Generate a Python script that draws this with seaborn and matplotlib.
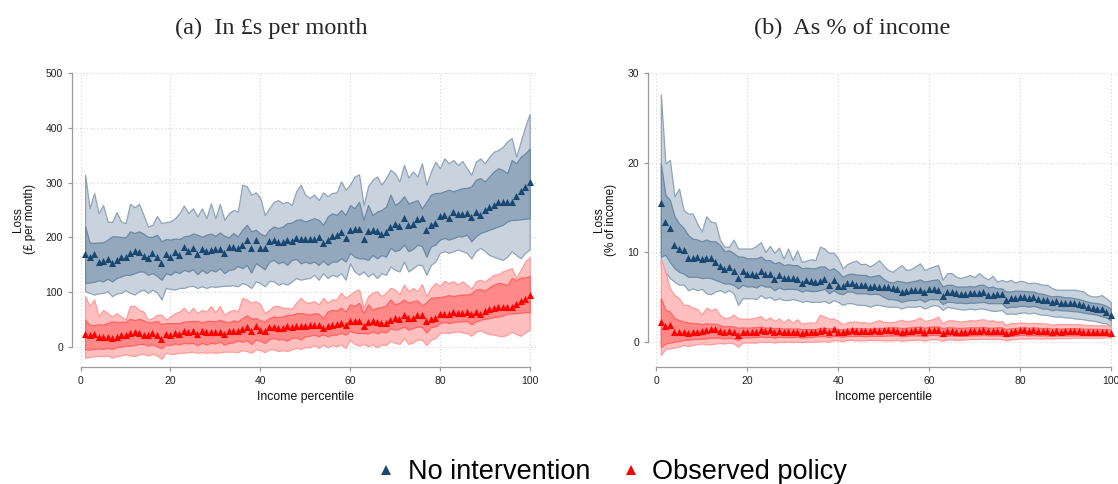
import matplotlib
matplotlib.use("Agg")
import matplotlib.pyplot as plt
from matplotlib.lines import Line2D
import numpy as np
import pandas as pd
import seaborn as sns

# ---------------------------------------------------------------- data
percentile = list(range(1, 101))

# Panel (a): loss in £ per month
gbp_none_mean = [170, 165, 170, 156, 158, 160, 153, 159, 165, 165,
                 172, 175, 173, 167, 163, 172, 165, 153, 170, 165,
                 173, 168, 182, 176, 181, 170, 179, 175, 178, 179,
                 179, 172, 182, 182, 181, 187, 195, 181, 196, 181,
                 180, 194, 195, 191, 191, 196, 194, 199, 197, 197,
                 197, 197, 201, 190, 196, 202, 205, 210, 199, 213,
                 216, 216, 198, 212, 213, 211, 207, 210, 219, 224,
                 221, 235, 222, 225, 233, 235, 213, 223, 226, 239,
                 241, 236, 247, 243, 243, 245, 238, 247, 241, 250,
                 256, 259, 264, 264, 265, 265, 275, 285, 291, 301]
gbp_none_hi95 = [314, 253, 281, 244, 259, 229, 228, 246, 229, 226,
                 261, 255, 261, 241, 220, 223, 239, 226, 228, 229,
                 235, 244, 258, 244, 253, 238, 253, 235, 262, 235,
                 261, 232, 244, 250, 247, 296, 293, 278, 282, 272,
                 241, 253, 265, 268, 262, 265, 259, 284, 296, 278,
                 272, 278, 268, 282, 275, 281, 282, 302, 287, 296,
                 311, 315, 259, 293, 305, 311, 296, 308, 323, 317,
                 302, 332, 309, 320, 311, 335, 296, 320, 338, 326,
                 344, 335, 341, 332, 339, 326, 314, 338, 344, 335,
                 347, 356, 359, 365, 375, 381, 347, 375, 402, 425]
gbp_none_hi68 = [220, 191, 190, 191, 191, 196, 202, 202, 201, 200,
                 211, 208, 211, 207, 201, 201, 205, 193, 197, 196,
                 198, 197, 202, 203, 207, 205, 201, 205, 207, 203,
                 209, 203, 200, 208, 202, 214, 223, 211, 214, 207,
                 203, 214, 220, 217, 220, 226, 227, 232, 233, 229,
                 232, 235, 232, 223, 238, 244, 241, 250, 241, 259,
                 253, 265, 232, 259, 241, 247, 250, 256, 278, 259,
                 265, 275, 262, 265, 268, 253, 265, 278, 281, 281,
                 284, 287, 284, 287, 290, 290, 293, 305, 308, 302,
                 311, 320, 326, 323, 317, 341, 335, 347, 353, 362]
gbp_none_lo68 = [117, 118, 119, 122, 120, 125, 120, 126, 129, 132,
                 132, 135, 138, 138, 132, 135, 130, 123, 135, 132,
                 138, 135, 141, 138, 142, 133, 141, 135, 141, 138,
                 144, 135, 141, 142, 148, 144, 150, 136, 153, 148,
                 142, 156, 159, 153, 156, 150, 159, 161, 153, 156,
                 153, 156, 150, 158, 150, 156, 156, 162, 156, 172,
                 165, 162, 162, 159, 168, 162, 168, 165, 181, 175,
                 178, 187, 175, 179, 187, 184, 165, 184, 187, 196,
                 199, 196, 199, 202, 202, 205, 193, 202, 208, 211,
                 214, 217, 220, 223, 229, 232, 232, 233, 234, 235]
gbp_none_lo95 = [102, 99, 96, 98, 99, 102, 93, 98, 99, 104,
                 99, 96, 102, 105, 99, 105, 100, 87, 108, 106,
                 105, 108, 108, 111, 112, 108, 111, 108, 111, 110,
                 111, 112, 112, 113, 111, 117, 114, 108, 120, 117,
                 111, 121, 120, 114, 117, 114, 120, 126, 123, 125,
                 126, 132, 123, 135, 126, 132, 129, 135, 123, 153,
                 138, 132, 138, 129, 135, 126, 135, 132, 147, 141,
                 138, 156, 138, 144, 150, 150, 132, 150, 156, 172,
                 175, 172, 175, 178, 175, 172, 162, 175, 181, 175,
                 168, 165, 162, 159, 165, 175, 168, 162, 172, 178]

gbp_obs_mean = [24, 22, 25, 19, 19, 19, 16, 19, 22, 22,
                26, 27, 26, 23, 22, 26, 23, 15, 25, 23,
                26, 24, 30, 28, 30, 25, 29, 27, 28, 28,
                28, 25, 30, 30, 30, 33, 37, 29, 38, 31,
                30, 36, 37, 35, 35, 38, 36, 39, 39, 39,
                40, 40, 41, 35, 38, 41, 43, 45, 41, 47,
                48, 48, 38, 46, 47, 46, 44, 45, 50, 53,
                52, 58, 53, 54, 58, 58, 47, 52, 54, 61,
                61, 60, 64, 63, 63, 64, 60, 64, 61, 66,
                70, 72, 74, 74, 74, 74, 79, 85, 88, 95]
gbp_obs_hi95 = [93, 75, 87, 56, 68, 62, 56, 62, 56, 50,
                75, 75, 68, 65, 50, 53, 59, 59, 50, 56,
                62, 65, 72, 62, 72, 62, 68, 65, 75, 64,
                75, 59, 65, 68, 65, 90, 87, 81, 84, 78,
                62, 68, 75, 75, 72, 72, 70, 81, 90, 82,
                81, 84, 78, 90, 81, 87, 87, 99, 90, 96,
                102, 105, 72, 93, 99, 102, 93, 99, 108, 105,
                96, 114, 102, 108, 102, 115, 93, 108, 117, 111,
                121, 117, 120, 114, 120, 114, 106, 120, 123, 119,
                126, 132, 133, 138, 141, 144, 126, 141, 156, 164]
gbp_obs_hi68 = [50, 41, 40, 42, 41, 44, 47, 46, 46, 46,
                52, 49, 52, 49, 45, 46, 48, 42, 44, 44,
                44, 44, 47, 47, 48, 48, 45, 48, 48, 47,
                50, 47, 45, 49, 47, 53, 58, 52, 53, 49,
                47, 53, 56, 55, 56, 59, 59, 62, 62, 61,
                59, 62, 61, 53, 65, 68, 67, 72, 65, 78,
                75, 81, 62, 78, 68, 72, 73, 76, 87, 78,
                81, 87, 81, 84, 85, 76, 82, 90, 91, 91,
                93, 95, 93, 95, 96, 96, 98, 105, 106, 103,
                109, 114, 117, 116, 113, 126, 122, 127, 127, 130]
gbp_obs_lo68 = [-4, -4, -3, -2, -3, -1, -3, 0, 1, 3,
                3, 4, 6, 6, 3, 5, 2, -2, 5, 4,
                7, 5, 8, 7, 8, 4, 8, 5, 8, 7,
                10, 5, 8, 9, 12, 10, 13, 6, 14, 12,
                8, 15, 17, 14, 15, 12, 17, 18, 14, 20,
                21, 23, 20, 24, 20, 23, 23, 26, 23, 30,
                27, 26, 26, 25, 29, 26, 29, 27, 35, 32,
                34, 38, 32, 35, 38, 37, 27, 37, 38, 44,
                46, 44, 46, 47, 47, 48, 42, 47, 50, 52,
                53, 55, 56, 58, 61, 62, 62, 63, 64, 64]
gbp_obs_lo95 = [-19, -18, -16, -16, -16, -15, -19, -16, -15, -13,
                -15, -16, -13, -12, -15, -12, -15, -21, -10, -12,
                -12, -10, -10, -9, -8, -10, -9, -10, -9, -10,
                -9, -8, -8, -8, -9, -5, -7, -10, -4, -5,
                -9, -4, -4, -7, -5, -7, -4, -1, -3, 0,
                0, 4, -1, 5, 0, 4, 2, 5, -1, 14,
                6, 3, 6, 2, 5, 0, 5, 4, 12, 8,
                6, 17, 6, 9, 14, 14, 4, 14, 17, 26,
                27, 26, 28, 29, 27, 26, 21, 28, 31, 27,
                24, 23, 21, 20, 23, 28, 24, 21, 27, 32]

# Panel (b): loss as % of income
pct_none_mean = [15.5, 13.4, 12.7, 10.8, 10.4, 10.2, 9.35, 9.35, 9.4, 9.2,
                 9.3, 9.3, 8.9, 8.45, 8.1, 8.3, 7.9, 7.15, 7.9, 7.55,
                 7.6, 7.4, 7.9, 7.55, 7.55, 6.95, 7.4, 7.1, 7.1, 7.1,
                 7.0, 6.6, 6.9, 6.75, 6.7, 6.8, 7.0, 6.3, 6.9, 6.25,
                 6.2, 6.6, 6.6, 6.35, 6.35, 6.35, 6.15, 6.2, 6.15, 6.1,
                 6.05, 5.95, 5.9, 5.5, 5.7, 5.75, 5.75, 5.75, 5.5, 5.85,
                 5.85, 5.75, 5.15, 5.5, 5.5, 5.4, 5.3, 5.3, 5.4, 5.4,
                 5.4, 5.5, 5.2, 5.2, 5.3, 5.3, 4.65, 4.85, 4.85, 4.95,
                 4.95, 4.85, 4.95, 4.75, 4.65, 4.65, 4.4, 4.55, 4.35, 4.35,
                 4.35, 4.3, 4.2, 4.05, 3.9, 3.8, 3.7, 3.6, 3.35, 3.0]
pct_none_hi95 = [27.6, 19.9, 20.3, 16.2, 17.1, 14.7, 14.3, 14.3, 13.2, 12.3,
                 14.0, 13.4, 13.3, 11.4, 10.6, 10.6, 11.4, 10.4, 10.4, 10.4,
                 10.4, 10.7, 11.1, 10.0, 10.7, 9.9, 10.5, 9.3, 10.4, 9.1,
                 10.2, 8.9, 9.05, 9.2, 9.1, 10.6, 10.4, 9.9, 9.95, 9.3,
                 8.2, 8.65, 8.9, 9.05, 8.65, 8.7, 8.4, 8.7, 9.1, 8.5,
                 8.0, 7.8, 8.2, 8.55, 8.0, 8.1, 8.4, 8.75, 8.0, 8.2,
                 8.4, 8.55, 6.9, 7.65, 7.65, 7.25, 7.1, 7.25, 7.45, 7.2,
                 7.65, 7.25, 6.95, 7.35, 6.7, 6.9, 6.7, 6.9, 6.6, 6.8,
                 6.7, 6.5, 6.6, 6.5, 6.35, 6.35, 6.0, 5.8, 5.8, 5.8,
                 5.8, 5.8, 5.7, 5.6, 5.2, 5.05, 5.05, 5.2, 4.85, 4.45]
pct_none_hi68 = [19.9, 16.4, 15.8, 14.0, 13.2, 12.7, 11.9, 11.5, 11.4, 11.2,
                 11.4, 11.2, 11.2, 10.8, 10.1, 10.2, 9.9, 9.5, 9.5, 9.3,
                 9.3, 9.3, 9.5, 9.1, 9.1, 8.75, 8.9, 8.55, 8.65, 8.55,
                 8.55, 8.2, 8.25, 8.2, 8.2, 8.4, 8.4, 8.0, 8.2, 7.8,
                 7.25, 7.5, 7.6, 7.5, 7.45, 7.45, 7.25, 7.35, 7.45, 7.0,
                 6.7, 6.6, 6.8, 6.7, 6.6, 6.7, 6.8, 6.95, 6.7, 6.8,
                 6.9, 6.95, 6.15, 6.35, 6.35, 6.15, 6.15, 6.15, 6.2, 6.15,
                 6.35, 6.35, 6.05, 6.15, 5.95, 5.95, 5.6, 5.6, 5.7, 5.7,
                 5.65, 5.6, 5.6, 5.4, 5.35, 5.2, 5.05, 5.1, 5.05, 4.95,
                 4.95, 4.85, 4.75, 4.6, 4.45, 4.35, 4.3, 4.2, 4.0, 3.7]
pct_none_lo68 = [9.5, 9.7, 8.9, 8.2, 7.8, 7.6, 7.25, 7.25, 7.25, 7.1,
                 7.15, 7.1, 6.9, 6.7, 6.5, 6.5, 6.35, 5.95, 6.35, 6.15,
                 6.2, 6.05, 6.35, 6.15, 6.15, 5.75, 6.05, 5.85, 5.9, 5.9,
                 5.85, 5.6, 5.75, 5.65, 5.65, 5.75, 5.9, 5.4, 5.75, 5.4,
                 5.3, 5.6, 5.6, 5.4, 5.4, 5.4, 5.3, 5.35, 5.3, 5.0,
                 4.75, 4.75, 4.65, 4.45, 4.6, 4.65, 4.65, 4.75, 4.45, 4.75,
                 4.75, 4.75, 4.2, 4.45, 4.45, 4.35, 4.35, 4.3, 4.35, 4.35,
                 4.4, 4.45, 4.3, 4.3, 4.3, 4.3, 3.8, 3.9, 3.9, 4.0,
                 4.0, 3.9, 4.0, 3.85, 3.7, 3.7, 3.5, 3.6, 3.5, 3.5,
                 3.45, 3.4, 3.35, 3.25, 3.15, 3.1, 3.0, 2.85, 2.7, 2.4]
pct_none_lo95 = [8.4, 7.8, 7.1, 6.7, 6.35, 6.4, 5.75, 5.95, 5.75, 5.9,
                 5.4, 5.3, 5.6, 5.75, 5.5, 5.75, 5.4, 4.1, 4.85, 4.85,
                 4.85, 4.75, 5.2, 4.85, 5.0, 4.65, 4.85, 4.65, 4.65, 4.75,
                 4.65, 4.45, 4.55, 4.45, 4.45, 4.45, 4.55, 4.3, 4.65, 4.45,
                 4.1, 4.3, 4.3, 4.15, 4.1, 4.1, 3.9, 4.1, 4.1, 4.0,
                 3.9, 3.9, 3.9, 3.7, 3.9, 3.9, 3.9, 4.0, 3.7, 3.9,
                 4.1, 4.0, 3.55, 3.9, 3.8, 3.7, 3.6, 3.6, 3.7, 3.6,
                 3.7, 3.7, 3.55, 3.45, 3.45, 3.55, 3.1, 3.15, 3.1, 3.25,
                 3.25, 3.15, 3.25, 3.1, 3.0, 3.0, 2.85, 2.8, 2.8, 2.7,
                 2.7, 2.6, 2.55, 2.5, 2.4, 2.35, 2.25, 2.1, 2.05, 1.7]

pct_obs_mean = [2.25, 1.8, 1.85, 1.1, 1.1, 1.1, 0.95, 1.05, 1.1, 1.2,
                1.25, 1.4, 1.4, 1.2, 1.1, 1.2, 1.1, 0.75, 1.1, 1.05,
                1.1, 1.1, 1.35, 1.2, 1.25, 1.05, 1.2, 1.1, 1.1, 1.1,
                1.1, 0.95, 1.1, 1.1, 1.1, 1.2, 1.35, 1.05, 1.4, 1.1,
                1.05, 1.2, 1.25, 1.2, 1.2, 1.2, 1.2, 1.25, 1.2, 1.25,
                1.25, 1.25, 1.2, 1.05, 1.15, 1.2, 1.25, 1.25, 1.1, 1.25,
                1.25, 1.25, 1.0, 1.2, 1.15, 1.1, 1.1, 1.1, 1.15, 1.2,
                1.2, 1.3, 1.15, 1.15, 1.2, 1.2, 1.0, 1.1, 1.15, 1.25,
                1.25, 1.2, 1.25, 1.2, 1.15, 1.2, 1.1, 1.15, 1.1, 1.15,
                1.15, 1.15, 1.15, 1.1, 1.1, 1.1, 1.1, 1.05, 1.05, 1.0]
pct_obs_hi95 = [9.3, 7.8, 5.95, 5.2, 4.85, 4.1, 4.1, 3.8, 3.65, 3.0,
                3.8, 3.5, 3.7, 3.0, 2.6, 2.7, 3.0, 2.6, 2.55, 2.55,
                2.6, 2.7, 2.85, 2.4, 2.7, 2.3, 2.6, 2.15, 2.55, 2.1,
                2.5, 2.0, 2.1, 2.15, 2.1, 3.0, 2.8, 2.55, 2.6, 2.3,
                1.95, 2.15, 2.25, 2.25, 2.15, 2.15, 2.05, 2.25, 2.4, 2.2,
                2.2, 2.15, 2.3, 2.45, 2.25, 2.35, 2.45, 2.7, 2.3, 2.4,
                2.55, 2.8, 2.05, 2.35, 2.4, 2.3, 2.25, 2.3, 2.4, 2.35,
                2.45, 2.5, 2.3, 2.4, 2.2, 2.3, 1.85, 2.1, 2.05, 2.15,
                2.1, 2.05, 2.1, 2.05, 2.05, 2.0, 1.9, 1.95, 1.95, 1.95,
                1.95, 1.95, 1.95, 1.9, 1.85, 1.85, 1.8, 1.85, 1.8, 1.75]
pct_obs_hi68 = [4.85, 3.55, 3.35, 2.6, 2.4, 2.25, 2.15, 2.05, 2.05, 1.95,
                2.05, 2.0, 2.0, 1.85, 1.7, 1.75, 1.7, 1.55, 1.6, 1.55,
                1.6, 1.6, 1.7, 1.55, 1.6, 1.5, 1.55, 1.45, 1.5, 1.45,
                1.5, 1.4, 1.4, 1.4, 1.4, 1.55, 1.55, 1.45, 1.5, 1.4,
                1.4, 1.45, 1.5, 1.5, 1.5, 1.5, 1.45, 1.5, 1.55, 1.5,
                1.6, 1.6, 1.6, 1.5, 1.55, 1.6, 1.6, 1.7, 1.55, 1.65,
                1.7, 1.7, 1.5, 1.6, 1.6, 1.55, 1.55, 1.55, 1.6, 1.6,
                1.6, 1.65, 1.55, 1.55, 1.6, 1.6, 1.4, 1.5, 1.5, 1.6,
                1.6, 1.55, 1.6, 1.55, 1.5, 1.55, 1.45, 1.5, 1.45, 1.5,
                1.5, 1.5, 1.5, 1.45, 1.45, 1.45, 1.45, 1.4, 1.4, 1.35]
pct_obs_lo68 = [-0.6, -0.2, -0.1, 0.0, 0.05, 0.2, 0.2, 0.3, 0.3, 0.35,
                0.35, 0.45, 0.45, 0.45, 0.35, 0.45, 0.35, 0.2, 0.5, 0.45,
                0.5, 0.5, 0.6, 0.5, 0.55, 0.45, 0.55, 0.5, 0.5, 0.5,
                0.55, 0.45, 0.5, 0.5, 0.6, 0.6, 0.65, 0.5, 0.65, 0.6,
                0.55, 0.65, 0.65, 0.65, 0.65, 0.6, 0.65, 0.65, 0.65, 0.65,
                0.7, 0.7, 0.7, 0.6, 0.65, 0.7, 0.7, 0.7, 0.6, 0.75,
                0.75, 0.75, 0.6, 0.7, 0.7, 0.65, 0.65, 0.65, 0.7, 0.7,
                0.7, 0.75, 0.7, 0.7, 0.7, 0.7, 0.6, 0.65, 0.7, 0.75,
                0.75, 0.7, 0.75, 0.7, 0.7, 0.7, 0.65, 0.7, 0.7, 0.7,
                0.7, 0.7, 0.7, 0.7, 0.7, 0.7, 0.7, 0.7, 0.7, 0.65]
pct_obs_lo95 = [-1.5, -0.8, -0.75, -0.65, -0.55, -0.35, -0.5, -0.35, -0.3, -0.2,
                -0.3, -0.3, -0.2, -0.15, -0.2, -0.1, -0.2, -0.55, -0.1, -0.1,
                -0.1, -0.1, 0.0, -0.05, 0.0, -0.1, 0.0, -0.05, 0.0, -0.05,
                0.0, -0.05, 0.0, 0.0, 0.0, 0.05, 0.05, 0.0, 0.15, 0.15,
                0.05, 0.2, 0.2, 0.15, 0.15, 0.15, 0.2, 0.2, 0.2, 0.15,
                0.15, 0.15, 0.2, 0.1, 0.15, 0.2, 0.2, 0.25, 0.1, 0.25,
                0.3, 0.25, 0.1, 0.25, 0.25, 0.2, 0.2, 0.25, 0.3, 0.3,
                0.3, 0.35, 0.3, 0.3, 0.3, 0.3, 0.15, 0.25, 0.3, 0.35,
                0.35, 0.35, 0.4, 0.35, 0.35, 0.4, 0.35, 0.4, 0.4, 0.4,
                0.4, 0.45, 0.45, 0.45, 0.45, 0.45, 0.45, 0.45, 0.5, 0.45]

series_labels = ["No intervention", "Observed policy"]
panel_titles = ["(a)  In £s per month", "(b)  As % of income"]
y_labels = ["Loss\n(£ per month)", "Loss\n(% of income)"]
x_label = "Income percentile"
x_ticks = [0, 20, 40, 60, 80, 100]
y_ticks_gbp = [0, 100, 200, 300, 400, 500]
y_ticks_pct = [0, 10, 20, 30]

# ---------------------------------------------------------------- style
sns.set_style("white")
plt.rcParams["font.family"] = ["Liberation Sans", "DejaVu Sans"]

styles = {
    "No intervention": dict(marker="#1a476f", outer="#c8d3dd", outer_edge="#8fa4b9",
                            inner="#93a8bd", inner_edge="#6e89a4"),
    "Observed policy": dict(marker="#ff0000", outer="#ffbfbf", outer_edge="#ff9a9a",
                            inner="#ff8888", inner_edge="#ff6262"),
}


def tidy(values):
    """Long-format frame for one panel."""
    rows = []
    for label, (mean, lo95, lo68, hi68, hi95) in values.items():
        for p, m, a, b, c, d in zip(percentile, mean, lo95, lo68, hi68, hi95):
            rows.append(dict(percentile=p, series=label, mean=m,
                             lo95=a, lo68=b, hi68=c, hi95=d))
    return pd.DataFrame(rows)


panels = [
    tidy({"No intervention": (gbp_none_mean, gbp_none_lo95, gbp_none_lo68, gbp_none_hi68, gbp_none_hi95),
          "Observed policy": (gbp_obs_mean, gbp_obs_lo95, gbp_obs_lo68, gbp_obs_hi68, gbp_obs_hi95)}),
    tidy({"No intervention": (pct_none_mean, pct_none_lo95, pct_none_lo68, pct_none_hi68, pct_none_hi95),
          "Observed policy": (pct_obs_mean, pct_obs_lo95, pct_obs_lo68, pct_obs_hi68, pct_obs_hi95)}),
]

fig = plt.figure(figsize=(11.18, 4.84), dpi=100)
ax_a = fig.add_axes([0.0641, 0.2417, 0.4157, 0.6103])
ax_b = fig.add_axes([0.5793, 0.2417, 0.4203, 0.6085])

setups = [
    (ax_a, panels[0], (-2.0, 101.5), (-36, 502), y_ticks_gbp, y_labels[0], -0.103),
    (ax_b, panels[1], (-1.9, 101.5), (-2.83, 30.05), y_ticks_pct, y_labels[1], -0.091),
]

grey = "#9a9a9a"
for ax, df, xlim, ylim, yticks, ylab, ylab_x in setups:
    ax.set_xlim(*xlim)
    ax.set_ylim(*ylim)
    ax.set_xticks(x_ticks)
    ax.set_yticks(yticks)
    ax.grid(True, color="#d4d4d4", linestyle=(0, (1, 2.2)), linewidth=0.8)
    ax.set_axisbelow(True)

    for label in series_labels:
        st = styles[label]
        d = df[df["series"] == label]
        ax.fill_between(d["percentile"], d["lo95"], d["hi95"], facecolor=st["outer"],
                        edgecolor=st["outer_edge"], linewidth=0.9, zorder=2)
        ax.fill_between(d["percentile"], d["lo68"], d["hi68"], facecolor=st["inner"],
                        edgecolor=st["inner_edge"], linewidth=0.9, zorder=3)
        sns.scatterplot(data=d, x="percentile", y="mean", ax=ax, marker="^", s=26,
                        color=st["marker"], linewidth=0, legend=False, zorder=4)

    for side in ("top", "right"):
        ax.spines[side].set_visible(False)
    ax.spines["left"].set_bounds(yticks[0], yticks[-1])
    ax.spines["bottom"].set_bounds(x_ticks[0], x_ticks[-1])
    for side in ("left", "bottom"):
        ax.spines[side].set_color(grey)
        ax.spines[side].set_linewidth(0.9)
    ax.tick_params(axis="both", which="both", direction="out", length=3.0, width=0.9,
                   color=grey, labelsize=7.5, labelcolor="#222222", pad=3.2,
                   left=True, bottom=True)

    ax.set_xlabel(x_label, fontsize=8.8, color="#111111", va="center")
    ax.xaxis.set_label_coords(0.5024, -0.101)
    ax.set_ylabel(ylab, fontsize=8.4, color="#111111", ha="center", va="center",
                  linespacing=1.0)
    ax.yaxis.set_label_coords(ylab_x, 0.5)

fig.text(271 / 1118, 1 - 28 / 484, panel_titles[0], ha="center", va="center",
         fontsize=17.5, family=["Liberation Serif", "DejaVu Serif"])
fig.text(852 / 1118, 1 - 28 / 484, panel_titles[1], ha="center", va="center",
         fontsize=17.5, family=["Liberation Serif", "DejaVu Serif"])

handles = [Line2D([], [], linestyle="none", marker="^", markersize=7.5,
                  markeredgewidth=0, color=styles[s]["marker"]) for s in series_labels]
leg = fig.legend(handles, series_labels, loc="center",
                 bbox_to_anchor=(612 / 1118, 1 - 472 / 484),
                 ncol=2, frameon=False, fontsize=19.5, handlelength=0.7,
                 handletextpad=0.45, columnspacing=1.15, borderpad=0, borderaxespad=0)
for txt in leg.get_texts():
    txt.set_color("#000000")

fig.savefig("out.png", dpi=100)
